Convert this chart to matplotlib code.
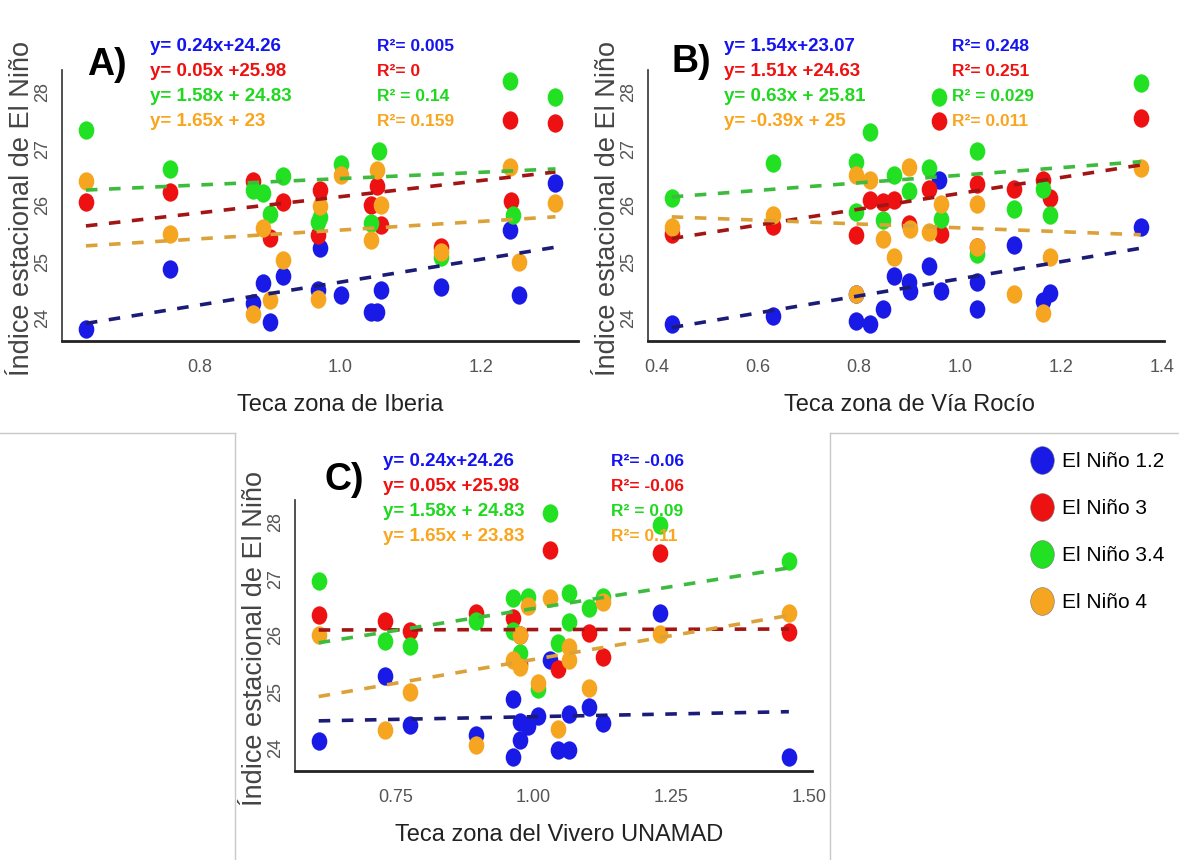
import matplotlib
matplotlib.use("Agg")

import matplotlib.pyplot as plt
import numpy as np
from matplotlib.lines import Line2D
from matplotlib.path import Path

# ---------------- data ----------------
series_names = ["El Niño 1.2", "El Niño 3", "El Niño 3.4", "El Niño 4"]

# A) Teca zona de Iberia
a_blue_x = [0.639, 0.758, 0.876, 0.890, 0.900, 0.919, 0.968, 0.972, 1.001, 1.044, 1.052, 1.058, 1.143, 1.241, 1.254, 1.306]
a_blue_y = [23.82, 24.88, 24.28, 24.62, 23.94, 24.75, 24.50, 25.24, 24.41, 24.12, 24.12, 24.50, 24.56, 25.56, 24.41, 26.40]
a_red_x = [0.639, 0.758, 0.876, 0.900, 0.919, 0.968, 0.972, 1.044, 1.052, 1.058, 1.143, 1.241, 1.243, 1.306]
a_red_y = [26.06, 26.24, 26.42, 25.42, 26.05, 25.47, 26.27, 26.01, 26.34, 25.65, 25.27, 27.51, 26.08, 27.46]
a_green_x = [0.639, 0.758, 0.876, 0.890, 0.900, 0.919, 0.968, 0.972, 1.001, 1.044, 1.056, 1.143, 1.241, 1.245, 1.306]
a_green_y = [27.33, 26.64, 26.27, 26.21, 25.85, 26.51, 25.70, 25.80, 26.73, 25.68, 26.95, 25.09, 28.19, 25.83, 27.92]
a_orange_x = [0.639, 0.758, 0.876, 0.890, 0.900, 0.919, 0.968, 0.972, 1.001, 1.044, 1.052, 1.058, 1.143, 1.241, 1.254, 1.306]
a_orange_y = [26.42, 25.49, 24.08, 25.59, 24.32, 25.04, 24.34, 25.98, 26.54, 25.39, 26.62, 26.01, 25.18, 26.68, 25.00, 26.04]
# dashed trend lines as drawn (slope, intercept) for blue, red, green, orange
a_slopes = [2.02, 1.43, 0.56, 0.77]
a_intercepts = [22.62, 24.72, 25.91, 24.79]
a_eqs = ["y= 0.24x+24.26", "y= 0.05x +25.98", "y= 1.58x + 24.83", "y= 1.65x + 23"]
a_r2 = ["R²= 0.005", "R²= 0", "R² = 0.14", "R²= 0.159"]

# B) Teca zona de Vía Rocío
b_blue_x = [0.429, 0.629, 0.794, 0.794, 0.822, 0.848, 0.869, 0.898, 0.900, 0.939, 0.958, 0.962, 1.034, 1.034, 1.106, 1.165, 1.178, 1.358]
b_blue_y = [23.90, 24.04, 24.43, 23.96, 23.90, 24.16, 24.75, 24.64, 24.49, 24.93, 26.44, 24.49, 24.64, 24.16, 25.29, 24.30, 24.45, 25.61]
b_red_x = [0.429, 0.629, 0.794, 0.822, 0.848, 0.869, 0.898, 0.939, 0.958, 0.962, 1.034, 1.034, 1.106, 1.165, 1.178, 1.358]
b_red_y = [25.50, 25.64, 25.47, 26.09, 26.06, 26.09, 25.67, 26.29, 27.48, 25.50, 26.38, 25.26, 26.29, 26.44, 26.12, 27.54]
b_green_x = [0.429, 0.629, 0.794, 0.794, 0.822, 0.848, 0.869, 0.898, 0.939, 0.958, 0.962, 1.034, 1.034, 1.106, 1.165, 1.178, 1.358]
b_green_y = [26.12, 26.74, 26.77, 25.88, 27.30, 25.73, 26.53, 26.26, 26.65, 27.92, 25.76, 26.95, 25.14, 25.94, 26.29, 25.82, 28.16]
b_orange_x = [0.429, 0.629, 0.794, 0.794, 0.822, 0.848, 0.869, 0.898, 0.900, 0.939, 0.962, 1.034, 1.034, 1.106, 1.165, 1.178, 1.358]
b_orange_y = [25.61, 25.82, 26.53, 24.43, 26.44, 25.41, 25.08, 26.68, 25.58, 25.52, 26.03, 26.03, 25.26, 24.43, 24.10, 25.08, 26.65]
b_slopes = [1.51, 1.40, 0.67, -0.34]
b_intercepts = [23.19, 24.81, 25.86, 25.94]
b_eqs = ["y= 1.54x+23.07", "y= 1.51x +24.63", "y= 0.63x + 25.81", "y= -0.39x + 25"]
b_r2 = ["R²= 0.248", "R²= 0.251", "R² = 0.029", "R²= 0.011"]

# C) Teca zona del Vivero UNAMAD
c_blue_x = [0.611, 0.732, 0.776, 0.896, 0.964, 0.964, 0.976, 0.976, 0.991, 1.009, 1.030, 1.045, 1.065, 1.065, 1.101, 1.127, 1.230, 1.464]
c_blue_y = [24.13, 25.28, 24.41, 24.24, 24.88, 23.85, 24.47, 24.15, 24.39, 24.57, 25.56, 23.98, 24.61, 23.98, 24.74, 24.44, 26.40, 23.85]
c_red_x = [0.611, 0.732, 0.776, 0.896, 0.964, 0.976, 0.976, 1.030, 1.045, 1.101, 1.127, 1.230, 1.464]
c_red_y = [26.36, 26.26, 26.08, 26.40, 26.30, 26.01, 25.50, 27.50, 25.40, 26.04, 25.62, 27.46, 26.05]
c_green_x = [0.611, 0.732, 0.776, 0.896, 0.964, 0.964, 0.976, 0.991, 1.009, 1.030, 1.045, 1.065, 1.065, 1.101, 1.127, 1.230, 1.464]
c_green_y = [26.95, 25.89, 25.81, 26.26, 26.65, 26.08, 25.68, 26.68, 25.05, 28.16, 25.86, 26.74, 26.24, 26.48, 26.67, 27.95, 27.32]
c_orange_x = [0.611, 0.732, 0.776, 0.896, 0.964, 0.976, 0.976, 0.991, 1.009, 1.030, 1.045, 1.065, 1.065, 1.101, 1.127, 1.230, 1.464]
c_orange_y = [26.01, 24.32, 25.00, 24.06, 25.56, 26.00, 25.44, 26.51, 25.15, 26.65, 24.35, 25.80, 25.56, 25.06, 26.59, 26.02, 26.40]
c_slopes = [0.19, 0.02, 1.55, 1.68]
c_intercepts = [24.37, 26.08, 24.92, 23.89]
c_eqs = ["y= 0.24x+24.26", "y= 0.05x +25.98", "y= 1.58x + 24.83", "y= 1.65x + 23.83"]
c_r2 = ["R²= -0.06", "R²= -0.06", "R² = 0.09", "R²= 0.11"]

y_ticks = [24, 25, 26, 27, 28]
a_xticks = [0.8, 1.0, 1.2]
b_xticks = [0.4, 0.6, 0.8, 1.0, 1.2, 1.4]
c_xticks = [0.75, 1.00, 1.25, 1.50]

# ---------------- style ----------------
W, H = 1179, 860
NARROW = ["Liberation Sans Narrow", "Liberation Sans", "DejaVu Sans"]
SANS = ["Liberation Sans", "DejaVu Sans"]

point_colors = ["#1a1ae6", "#ee1111", "#22e022", "#f5a520"]
line_colors = ["#1c1c78", "#a31414", "#3dbb3d", "#dba23a"]
text_colors = ["#1414f0", "#f01010", "#1fd81f", "#f9a51e"]

circ = Path.unit_circle()
oval = Path(circ.vertices * np.array([0.85, 1.0]), circ.codes)


def fx(px):
    return px / W


def fy(py):
    return 1 - py / H


def draw_panel(ax, xs, ys, slopes, intercepts, xlim, xticks, xtick_fmt, xlabel, xlabel_x):
    for i in range(4):
        ax.scatter(xs[i], ys[i], s=175, marker=oval, color=point_colors[i],
                   linewidths=0, zorder=2)
    for i in range(4):
        lx = np.array([min(xs[i]), max(xs[i])])
        ax.plot(lx, slopes[i] * lx + intercepts[i], color=line_colors[i],
                linewidth=2.6, linestyle=(0, (3.2, 3.2)), zorder=3)

    ax.set_xlim(*xlim)
    ax.set_ylim(23.6, 28.39)
    ax.set_xticks(xticks)
    ax.set_xticklabels([xtick_fmt % v for v in xticks])
    ax.set_yticks(y_ticks)
    ax.tick_params(axis="x", length=0, pad=13, labelsize=13, labelcolor="#555555")
    ax.tick_params(axis="y", length=0, pad=8, labelsize=13, labelcolor="#555555")
    for lab in ax.get_xticklabels() + ax.get_yticklabels():
        lab.set_family(NARROW)
    plt.setp(ax.get_yticklabels(), rotation=90, va="center")

    for side in ["top", "right"]:
        ax.spines[side].set_visible(False)
    ax.spines["bottom"].set_linewidth(2.0)
    ax.spines["bottom"].set_color("#222222")
    ax.spines["left"].set_linewidth(1.2)
    ax.spines["left"].set_color("#333333")
    ax.set_facecolor("none")

    ax.set_xlabel(xlabel, fontsize=17, color="#222222", family=SANS)
    ax.xaxis.set_label_coords(xlabel_x, -0.236)
    ax.xaxis.label.set_verticalalignment("center")
    ax.set_ylabel("Índice estacional de El Niño", fontsize=19.5, color="#444444", family=SANS)
    ax.yaxis.set_label_coords(-0.0775, 0.49)
    ax.yaxis.label.set_verticalalignment("center")


def add_equations(fig, eqs, r2s, eq_x, r2_x, top_y):
    for i in range(4):
        y = top_y + i * 25.0
        fig.text(fx(eq_x), fy(y), eqs[i], color=text_colors[i], fontsize=13.5,
                 fontweight="bold", family=NARROW, ha="left", va="center")
        fig.text(fx(r2_x), fy(y), r2s[i], color=text_colors[i], fontsize=12.5,
                 fontweight="bold", family=NARROW, ha="left", va="center")


fig = plt.figure(figsize=(W / 100, H / 100), dpi=100)
fig.patch.set_facecolor("white")

ax_a = fig.add_axes([fx(62), fy(341), 516 / W, 271 / H])
draw_panel(ax_a,
           [a_blue_x, a_red_x, a_green_x, a_orange_x],
           [a_blue_y, a_red_y, a_green_y, a_orange_y],
           a_slopes, a_intercepts, (0.605, 1.338), a_xticks, "%.1f",
           "Teca zona de Iberia", 0.539)

ax_b = fig.add_axes([fx(648), fy(341), 516 / W, 271 / H])
draw_panel(ax_b,
           [b_blue_x, b_red_x, b_green_x, b_orange_x],
           [b_blue_y, b_red_y, b_green_y, b_orange_y],
           b_slopes, b_intercepts, (0.382, 1.404), b_xticks, "%.1f",
           "Teca zona de Vía Rocío", 0.507)

ax_c = fig.add_axes([fx(295), fy(771), 517 / W, 271 / H])
draw_panel(ax_c,
           [c_blue_x, c_red_x, c_green_x, c_orange_x],
           [c_blue_y, c_red_y, c_green_y, c_orange_y],
           c_slopes, c_intercepts, (0.568, 1.506), c_xticks, "%.2f",
           "Teca zona del Vivero UNAMAD", 0.511)

add_equations(fig, a_eqs, a_r2, 150, 377, 46.7)
add_equations(fig, b_eqs, b_r2, 724, 952, 46.7)
add_equations(fig, c_eqs, c_r2, 383, 611, 461.7)

# panel letters
for letter, px, py in [("A)", 87, 65), ("B)", 671, 62), ("C)", 324, 480)]:
    fig.text(fx(px), fy(py), letter, fontsize=27, fontweight="bold",
             family=NARROW, ha="left", va="center", color="black")

# thin frame lines around the lower panel
frame = dict(color="#c8c8c8", linewidth=1.0, transform=fig.transFigure)
fig.add_artist(Line2D([fx(0), fx(235)], [fy(433), fy(433)], **frame))
fig.add_artist(Line2D([fx(235), fx(235)], [fy(433), fy(860)], **frame))
fig.add_artist(Line2D([fx(830), fx(830)], [fy(433), fy(860)], **frame))
fig.add_artist(Line2D([fx(830), fx(W)], [fy(433), fy(433)], **frame))

# legend
handles = [Line2D([], [], linestyle="none", marker=oval, markersize=20,
                  markerfacecolor=point_colors[i], markeredgecolor="#777777",
                  markeredgewidth=0.4) for i in range(4)]
fig.legend(handles, series_names, loc="upper left",
           bbox_to_anchor=(fx(1032), fy(452)), frameon=False,
           prop={"family": NARROW, "size": 15}, labelspacing=1.35,
           handlelength=1.0, handletextpad=0.45, borderpad=0, borderaxespad=0)

fig.savefig("out.png", dpi=100)
plt.close(fig)
